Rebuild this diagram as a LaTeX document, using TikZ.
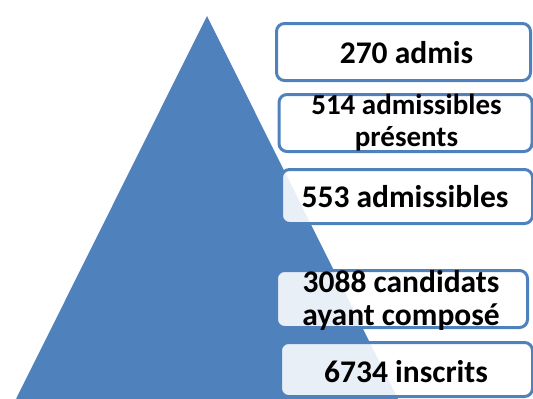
\documentclass[tikz,border=0pt]{standalone}
\usepackage{fontspec}
\setmainfont{Carlito}
\definecolor{pyrblue}{RGB}{79,129,189}
\tikzset{every picture/.style={line width=0.75pt}}
\tikzset{
  lvlbox/.style={draw=pyrblue, line width=3pt, rounded corners=8pt, fill=white, fill opacity=0.88, inner sep=0pt},
  lvltext/.style={font=\bfseries\fontsize{31.5}{33}\selectfont, align=center, inner sep=0pt, text=black}
}

\begin{document}
\begin{tikzpicture}[x=1pt,y=1pt,yscale=-1,xscale=1]
    \useasboundingbox (0,0) rectangle (533,399);

    %Pyramid
    \fill [pyrblue] (207,16) -- (398,399) -- (16,399) -- cycle;

    % Box Nodes
    \draw (403.5,52) node [lvlbox, minimum width=254pt, minimum height=57pt] (b1) {};
    \draw (405.5,123) node [lvlbox, minimum width=253pt, minimum height=57pt] (b2) {};
    \draw (407,196.5) node [lvlbox, minimum width=251pt, minimum height=54pt] (b3) {};
    \draw (402,299) node [lvlbox, minimum width=251pt, minimum height=57pt] (b4) {};
    \draw (406.5,369.5) node [lvlbox, minimum width=252pt, minimum height=54pt] (b5) {};

    % Text Nodes
    \draw (406.5,53) node [lvltext] (t1) {270 admis};
    \draw (406.5,123) node [lvltext, font=\bfseries\fontsize{29}{32}\selectfont] (t2) {514 admissibles\\présents};
    \draw (405,197) node [lvltext] (t3) {553 admissibles};
    \draw (401,300) node [lvltext] (t4) {3088 candidats\\ayant composé};
    \draw (406,372) node [lvltext] (t5) {6734 inscrits};
\end{tikzpicture}
\end{document}
